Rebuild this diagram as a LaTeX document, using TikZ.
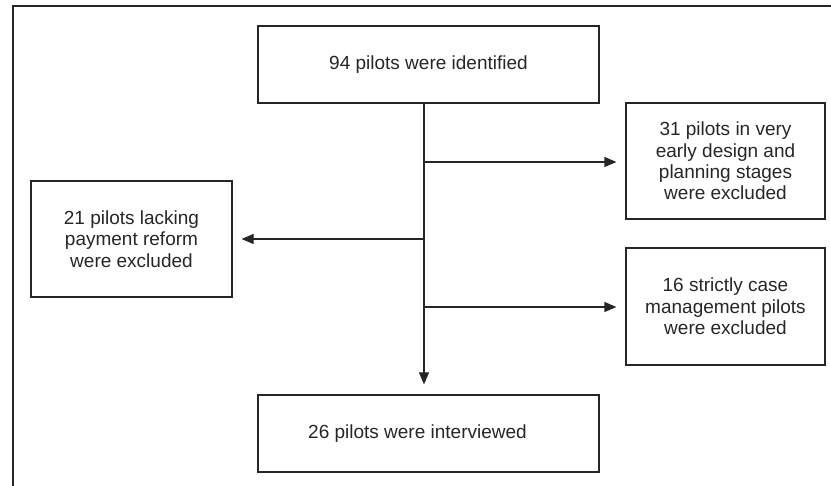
\documentclass[tikz,border=0pt]{standalone}
\usepackage{fontspec}
\setmainfont{Liberation Sans}
\usetikzlibrary{arrows.meta}
\begin{document}
\begin{tikzpicture}[x=1pt,y=-1pt,
  box/.style={draw=black!85, line width=1.2pt, rectangle, inner sep=0pt, align=center,
    font=\fontsize{19}{21.3}\selectfont, text=black!85},
  flow/.style={line width=1.2pt, draw=black!85, -{Triangle[length=12pt,width=10pt]}},
  trunk/.style={line width=1.2pt, draw=black!85}]
\useasboundingbox (0,0) rectangle (831,486);
% outer frame (top and left only)
\coordinate (fa) at (13,486);
\coordinate (fb) at (13,6);
\coordinate (fc) at (831,6);
\draw[line width=1.2pt, draw=black!85] (fa) -- (fb) -- (fc);
% boxes
\node[box, minimum width=341pt, minimum height=77pt] (b1) at (428.5,64.5) {\raisebox{2pt}{94 pilots were identified}};
\node[box, minimum width=199pt, minimum height=116pt] (b2) at (725.5,161) {31 pilots in very\\early design and\\planning stages\\were excluded};
\node[box, minimum width=201pt, minimum height=116pt] (b3) at (131.5,239) {21 pilots lacking\\payment reform\\were excluded};
\node[box, minimum width=199pt, minimum height=117pt] (b4) at (725.5,306.5) {16 strictly case\\management pilots\\were excluded};
\node[box, minimum width=341pt, minimum height=77pt] (b5) at (428.5,433.5) {\raisebox{2pt}{26 pilots were interviewed}\hspace*{22pt}};
% branch points on the trunk
\coordinate (j1) at (424,162);
\coordinate (j2) at (424,239);
\coordinate (j3) at (424,307);
% connectors
\draw[flow, shorten >=10pt] (b1.south -| j1) -- (b5.north -| j1);
\draw[flow, shorten >=9pt] (j1) -- (j1 -| b2.west);
\draw[flow, shorten >=9pt] (j2) -- (j2 -| b3.east);
\draw[flow, shorten >=9pt] (j3) -- (j3 -| b4.west);
\end{tikzpicture}
\end{document}
